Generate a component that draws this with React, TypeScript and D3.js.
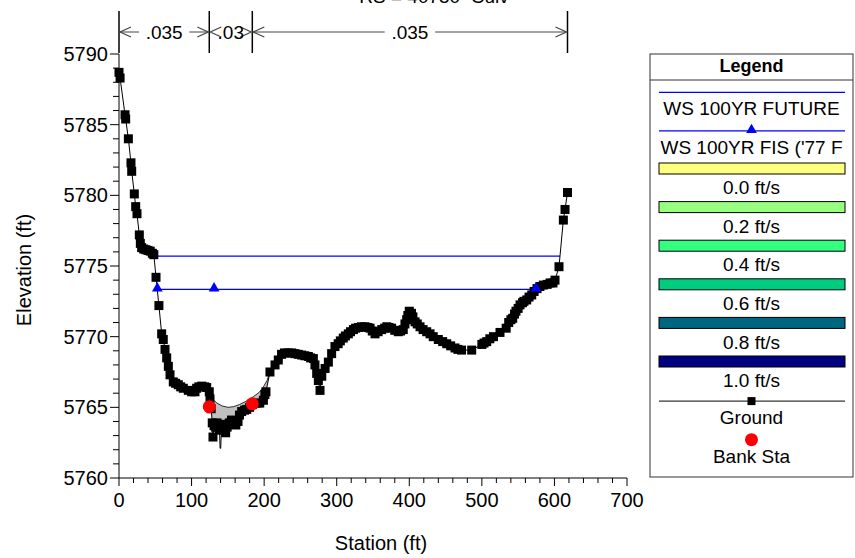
import React from 'react';
import * as d3 from 'd3';

const TITLE = 'RS = 40750  Culv';
const X_LABEL = 'Station (ft)';
const Y_LABEL = 'Elevation (ft)';

const groundPoints: [number, number][] = [
  [0, 5788.7], [1.5, 5788.3], [8.3, 5785.7], [9.2, 5785.4], [12.9, 5784.0], [16.5, 5782.3],
  [17.5, 5781.7], [21.1, 5780.1], [23, 5779.2], [24.8, 5778.7], [28, 5777.2], [29.4, 5776.6],
  [31.2, 5776.3], [34, 5776.2], [37, 5776.15], [40, 5776.1], [43, 5776.05], [46, 5775.9],
  [48, 5775.8], [51, 5774.2], [55, 5772.2], [58.8, 5770.2], [61, 5769.8], [63.4, 5769.1],
  [65.7, 5768.5], [68, 5767.9], [70.3, 5767.3], [74.8, 5766.8], [78, 5766.7], [81.7, 5766.6],
  [85, 5766.45], [88.6, 5766.35], [95.5, 5766.2], [100, 5766.1], [104.7, 5766.1], [107, 5766.35],
  [110, 5766.45], [114, 5766.5], [118, 5766.45], [120.8, 5766.4], [124.4, 5766.1], [125.4, 5765.6],
  [127, 5764.9], [128.5, 5763.9], [129.5, 5762.9], [131, 5763.7], [133, 5763.6], [135, 5763.9],
  [137, 5763.6], [138.5, 5763.4], [141, 5763.4], [143, 5763.6], [145, 5763.8], [147, 5763.2],
  [149, 5763.6], [152, 5763.9], [155, 5764.1], [158, 5763.8], [161, 5763.75], [164, 5764.0],
  [166, 5764.45], [169, 5764.7], [173, 5764.8], [176, 5764.85], [180, 5765.0], [184, 5765.2],
  [190, 5765.3], [194, 5765.3], [199, 5765.5], [201, 5765.9], [202.5, 5766.1], [208, 5767.5],
  [215, 5768.0], [219.5, 5768.35], [224, 5768.75], [228, 5768.85], [233, 5768.85], [238, 5768.85],
  [242.5, 5768.8], [247, 5768.75], [251.7, 5768.7], [256, 5768.65], [260.9, 5768.6], [264, 5768.5],
  [267.8, 5768.45], [270, 5768.0], [272.4, 5767.4], [274.7, 5766.9], [277, 5766.2], [279.4, 5767.2],
  [284, 5767.75], [288.5, 5768.2], [293, 5768.8], [297.6, 5769.3], [302, 5769.5], [305, 5769.7],
  [309, 5769.9], [312, 5770.05], [316, 5770.2], [319, 5770.35], [323, 5770.5], [326, 5770.6],
  [330, 5770.65], [334, 5770.7], [339, 5770.7], [343, 5770.65], [346, 5770.6], [349, 5770.4],
  [352.8, 5770.2], [357, 5770.35], [362, 5770.5], [366, 5770.6], [369, 5770.7], [372, 5770.65],
  [375.6, 5770.6], [380, 5770.45], [384.8, 5770.35], [388, 5770.4], [391.7, 5770.5], [394, 5770.9],
  [396.4, 5771.2], [398, 5771.5], [400, 5771.8], [403, 5771.65], [405, 5771.4], [408, 5771.05],
  [411, 5770.9], [414.8, 5770.7], [419, 5770.5], [424, 5770.35], [428.6, 5770.2], [433, 5770.0],
  [440, 5769.8], [446, 5769.65], [451.6, 5769.5], [457, 5769.35], [463, 5769.2], [467, 5769.1],
  [472, 5769.05], [486, 5769.05], [500, 5769.45], [503, 5769.55], [506.7, 5769.65], [511, 5769.85],
  [516, 5770.0], [525, 5770.3], [533.5, 5770.6], [537, 5771.0], [540, 5771.2], [542.5, 5771.3],
  [545, 5771.6], [547, 5771.8], [550, 5772.0], [552.6, 5772.25], [556, 5772.4], [558, 5772.5],
  [561.8, 5772.6], [565, 5772.8], [568.7, 5772.95], [572, 5773.2], [576, 5773.4], [580, 5773.55],
  [584.7, 5773.65], [590, 5773.7], [594, 5773.8], [598, 5773.8], [600.8, 5774.0], [606.3, 5774.95],
  [612.3, 5778.25], [614.6, 5779.0], [618, 5780.2],
];
// surveyed spike tips shown by the line only (no marker in the reference)
const groundSpikeTips: [number, number][] = [[139.3, 5762.1], [140.2, 5762.1]];

const culvertTopCurve: [number, number][] = [
  [125.4, 5765.75], [135, 5765.3], [142, 5765.1], [150, 5765.0], [158, 5765.05], [166, 5765.2],
  [174, 5765.4], [185, 5765.75], [193, 5766.05], [199, 5766.45], [204, 5766.9], [208, 5767.5],
];

const bankStations = [124.4, 183.7];
const bankElevations = [5765.05, 5765.25];

const wsFutureElevation = 5775.7;
const wsFutureStations = [47.3, 607.7];
const wsFisElevation = 5773.35;
const wsFisStations = [52.8, 574.7];
const wsFisMarkerStations = [52.8, 131, 574.7];

const nBreakStations = [0, 124.4, 183.7, 618];
const nValues = ['.035', '.03', '.035'];

const xTicks = [0, 100, 200, 300, 400, 500, 600, 700];
const xMinorTicks = d3.range(0, 701, 20);
const yTicks = [5760, 5765, 5770, 5775, 5780, 5785, 5790];
const yMinorTicks = d3.range(5760, 5791, 1);

const legendWsLabels = ['WS 100YR FUTURE', "WS 100YR FIS ('77 F"];
const velocityLabels = ['0.0 ft/s', '0.2 ft/s', '0.4 ft/s', '0.6 ft/s', '0.8 ft/s', '1.0 ft/s'];
const velocityColors = ['#ffff80', '#99ff80', '#33ff80', '#00cc80', '#006680', '#000080'];
const legendOtherLabels = ['Ground', 'Bank Sta'];

const FONT = '"Liberation Sans", Arial, Helvetica, sans-serif';

export default function App() {
  const W = 855, H = 558;
  const x = d3.scaleLinear().domain([0, 700]).range([119, 627]);
  const y = d3.scaleLinear().domain([5760, 5790]).range([478, 54]);

  const line = d3.line<[number, number]>().x(d => x(d[0])).y(d => y(d[1]));
  const allGround = [...groundPoints, ...groundSpikeTips].sort((a, b) => a[0] - b[0]);

  const fillTop = culvertTopCurve;
  const fillBottom = groundPoints
    .filter(p => p[0] >= fillTop[0][0] && p[0] <= fillTop[fillTop.length - 1][0])
    .slice()
    .reverse();
  const fillPoly = [...fillTop, ...fillBottom];

  const sq = 9;
  const triPath = d3.symbol().type(d3.symbolTriangle).size(50)() as string;

  const arrowY = 32;
  const chevron = (px: number, dir: number) =>
    `M${px + dir * 11},${arrowY - 5} L${px},${arrowY} L${px + dir * 11},${arrowY + 5}`;

  const legX0 = 650, legX1 = 853, legY0 = 54, legY1 = 477;
  const symX0 = 659, symX1 = 845, legCx = (legX0 + legX1) / 2;
  const rowY = (i: number) => 92.3 + 38.6 * i;

  return (
    <svg width={W} height={H} style={{ position: 'absolute', left: 0, top: 0, background: '#fff' }}
      fontFamily={FONT}>
      <rect x={0} y={0} width={W} height={H} fill="#fff" />
      <text x={434} y={3} fontSize={19} textAnchor="middle" style={{ whiteSpace: 'pre' }}>{TITLE}</text>

      <path d={line(fillPoly as [number, number][]) + 'Z'} fill="#c0c0c0" stroke="none" />
      <path d={line(fillTop) as string} fill="none" stroke="#000" strokeWidth={0.8} />

      <line x1={x(wsFutureStations[0])} x2={x(wsFutureStations[1])} y1={y(wsFutureElevation)} y2={y(wsFutureElevation)}
        stroke="#0000ff" strokeWidth={1.2} />
      <line x1={x(wsFisStations[0])} x2={x(wsFisStations[1])} y1={y(wsFisElevation)} y2={y(wsFisElevation)}
        stroke="#0000ff" strokeWidth={1.2} />

      <path d={line(allGround) as string} fill="none" stroke="#000" strokeWidth={1} />
      {groundPoints.map((p, i) => (
        <rect key={i} x={x(p[0]) - sq / 2} y={y(p[1]) - sq / 2} width={sq} height={sq} fill="#000" />
      ))}
      {wsFisMarkerStations.map((s, i) => (
        <path key={i} d={triPath} transform={`translate(${x(s)},${y(wsFisElevation) - 1})`} fill="#0000ff" />
      ))}
      {bankStations.map((s, i) => (
        <circle key={i} cx={x(s)} cy={y(bankElevations[i])} r={6.5} fill="#ff0000" />
      ))}

      <line x1={x(0)} x2={x(700)} y1={y(5760)} y2={y(5760)} stroke="#000" />
      <line x1={x(0)} x2={x(0)} y1={y(5760)} y2={y(5790)} stroke="#000" />
      {xMinorTicks.map(t => (
        <line key={'xm' + t} x1={x(t)} x2={x(t)} y1={y(5760)} y2={y(5760) + (t % 100 === 0 ? 8 : 5)} stroke="#000" />
      ))}
      {xTicks.map(t => (
        <text key={'xt' + t} x={x(t)} y={507} fontSize={20} textAnchor="middle">{t}</text>
      ))}
      {yMinorTicks.map(t => (
        <line key={'ym' + t} x1={x(0) - (t % 5 === 0 ? 9 : 6)} x2={x(0)} y1={y(t)} y2={y(t)} stroke="#000" />
      ))}
      {yTicks.map(t => (
        <text key={'yt' + t} x={108} y={y(t)} dy="0.35em" fontSize={20} textAnchor="end">{t}</text>
      ))}
      <text x={381} y={550} fontSize={20} textAnchor="middle">{X_LABEL}</text>
      <text transform="translate(31,270) rotate(-90)" fontSize={20} textAnchor="middle">{Y_LABEL}</text>

      {nBreakStations.map((s, i) => (
        <line key={'nb' + i} x1={x(s)} x2={x(s)} y1={11} y2={53} stroke="#000" strokeWidth={1.5} />
      ))}
      {nValues.map((v, i) => {
        const a = x(nBreakStations[i]);
        const b = x(nBreakStations[i + 1]);
        const c = (a + b) / 2;
        const half = v.length * 5.3 + 4;
        return (
          <g key={'nv' + i}>
            {b - a > 2 * half + 10 && (
              <>
                <line x1={a} x2={c - half} y1={arrowY} y2={arrowY} stroke="#444" strokeWidth={1} />
                <line x1={c + half} x2={b} y1={arrowY} y2={arrowY} stroke="#444" strokeWidth={1} />
              </>
            )}
            <path d={chevron(a + 1, 1)} fill="none" stroke="#444" strokeWidth={1.2} />
            <path d={chevron(b - 1, -1)} fill="none" stroke="#444" strokeWidth={1.2} />
            <text x={c} y={arrowY} dy="0.35em" fontSize={19} textAnchor="middle">{v}</text>
          </g>
        );
      })}

      <rect x={legX0} y={legY0} width={legX1 - legX0} height={legY1 - legY0} fill="#fff" stroke="#333" strokeWidth={1} />
      <line x1={legX0} x2={legX1} y1={80} y2={80} stroke="#333" />
      <text x={legCx} y={66} dy="0.35em" fontSize={18} fontWeight="bold" textAnchor="middle">Legend</text>
      {legendWsLabels.map((l, i) => (
        <g key={'lw' + i}>
          <line x1={symX0} x2={symX1} y1={rowY(i)} y2={rowY(i)} stroke="#0000ff" strokeWidth={1.2} />
          {i === 1 && <path d={triPath} transform={`translate(${legCx},${rowY(i) - 1})`} fill="#0000ff" />}
          <text x={legCx} y={rowY(i) + 16} dy="0.35em" fontSize={19} textAnchor="middle">{l}</text>
        </g>
      ))}
      {velocityLabels.map((l, i) => {
        const r = rowY(i + 2);
        return (
          <g key={'lv' + i}>
            <rect x={symX0} y={r - 6.5} width={symX1 - symX0} height={11} fill={velocityColors[i]} stroke="#000" strokeWidth={1} />
            <text x={legCx} y={r + 18} dy="0.35em" fontSize={19} textAnchor="middle">{l}</text>
          </g>
        );
      })}
      <g>
        <line x1={symX0} x2={symX1} y1={rowY(8)} y2={rowY(8)} stroke="#000" strokeWidth={1} />
        <rect x={legCx - 4} y={rowY(8) - 4} width={8} height={8} fill="#000" />
        <text x={legCx} y={rowY(8) + 16} dy="0.35em" fontSize={19} textAnchor="middle">{legendOtherLabels[0]}</text>
      </g>
      <g>
        <circle cx={legCx} cy={rowY(9)} r={6.5} fill="#ff0000" />
        <text x={legCx} y={rowY(9) + 17} dy="0.35em" fontSize={19} textAnchor="middle">{legendOtherLabels[1]}</text>
      </g>
    </svg>
  );
}
